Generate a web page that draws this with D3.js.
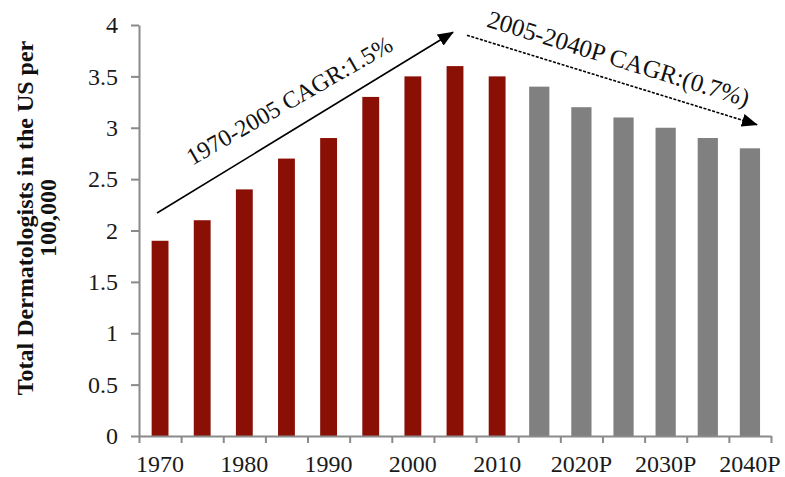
<!DOCTYPE html>
<html>
<head>
<meta charset="utf-8">
<script src="https://cdn.jsdelivr.net/npm/d3@7/dist/d3.min.js"></script>
<style>
  html, body { margin: 0; padding: 0; background: #fff; }
  svg { display: block; }
  text { font-family: "Liberation Serif", "Times New Roman", serif; }
</style>
</head>
<body>
<svg id="chart" width="785" height="477"></svg>
<script>
// Dermatologists per 100,000 US population, actual and projected (P)
const years = ["1970","1975","1980","1985","1990","1995","2000","2005","2010",
               "2015","2020","2025","2030","2035","2040"];
const values = [1.9, 2.1, 2.4, 2.7, 2.9, 3.3, 3.5, 3.6, 3.5,
                3.4, 3.2, 3.1, 3.0, 2.9, 2.8];
const firstProjectedYear = "2015";
const labelledYears = ["1970","1980","1990","2000","2010","2020","2030","2040"];
const yearLabels = ["1970","1980","1990","2000","2010","2020P","2030P","2040P"];
const yTicks = [0, 0.5, 1, 1.5, 2, 2.5, 3, 3.5, 4];
const yTitle = ["Total Dermatologists in the US per", "100,000"];

// Trend annotations, anchored in data space
const trendLabels = ["1970-2005 CAGR:1.5%", "2005-2040P CAGR:(0.7%)"];
const trendFrom = [{year: "1970", value: 2.17}, {year: "2005", value: 3.9}];
const trendTo   = [{year: "2005", value: 3.93}, {year: "2040", value: 3.03}];

const colors = { actual: "#8a1006", projected: "#808080", axis: "#8a8a8a", text: "#1a1a1a" };

const svg = d3.select("#chart");
const plotLeft = 139, plotRight = 771, plotTop = 25, plotBottom = 436;

const x = d3.scaleBand().domain(years).range([plotLeft, plotRight]).padding(0);
const xEdges = d3.scaleLinear().domain([0, years.length]).range([plotLeft, plotRight]);
const y = d3.scaleLinear().domain([0, 4]).range([plotBottom, plotTop]);

const isProjected = d => d >= firstProjectedYear;
const barWidth = d => x.bandwidth() * (isProjected(d) ? 0.48 : 0.40);

// Bars
svg.append("g").selectAll("rect")
  .data(years)
  .join("rect")
  .attr("x", (d) => x(d) + (x.bandwidth() - barWidth(d)) / 2)
  .attr("width", d => barWidth(d))
  .attr("y", (d, i) => y(values[i]))
  .attr("height", (d, i) => y(0) - y(values[i]))
  .attr("fill", d => isProjected(d) ? colors.projected : colors.actual);

// Y axis
const yAxis = svg.append("g")
  .attr("transform", `translate(${plotLeft},0)`)
  .call(d3.axisLeft(y).tickValues(yTicks).tickFormat(d3.format("")).tickSize(8).tickPadding(13).tickSizeOuter(0));

// X axis: tick marks at band edges
const xTicksAxis = svg.append("g")
  .attr("transform", `translate(0,${plotBottom})`)
  .call(d3.axisBottom(xEdges).tickValues(d3.range(years.length + 1)).tickFormat("").tickSize(7).tickSizeOuter(0));

// X axis: year labels under every other band
const xLabelAxis = svg.append("g")
  .attr("transform", `translate(0,${plotBottom})`)
  .call(d3.axisBottom(x).tickValues(labelledYears)
    .tickFormat(d => yearLabels[labelledYears.indexOf(d)]).tickSize(0).tickPadding(19));
xLabelAxis.select(".domain").remove();

[yAxis, xTicksAxis].forEach(g => {
  g.select(".domain").attr("stroke", colors.axis).attr("stroke-width", 2);
  g.selectAll(".tick line").attr("stroke", colors.axis).attr("stroke-width", 2);
});
[yAxis, xLabelAxis].forEach(g => {
  g.selectAll(".tick text")
    .attr("font-family", "Liberation Serif, Times New Roman, serif")
    .attr("font-size", 24)
    .attr("fill", colors.text);
});

// Y axis title
const yTitleText = svg.append("text")
  .attr("transform", "translate(33,218) rotate(-90)")
  .attr("text-anchor", "middle")
  .attr("font-size", 24)
  .attr("font-weight", "bold")
  .attr("fill", "#111");
yTitleText.append("tspan").attr("x", 0).attr("y", 0).text(yTitle[0]);
yTitleText.append("tspan").attr("x", 0).attr("y", 23).text(yTitle[1]);

// Arrowhead
svg.append("defs").append("marker")
  .attr("id", "head")
  .attr("viewBox", "0 0 16 13")
  .attr("refX", 15).attr("refY", 6.5)
  .attr("markerUnits", "userSpaceOnUse")
  .attr("markerWidth", 16).attr("markerHeight", 13)
  .attr("orient", "auto")
  .append("path")
  .attr("d", "M0,0 L16,6.5 L0,13 Z")
  .attr("fill", "#000");

const nudgeFrom = [-3, 12];
const nudgeTo = [-2, 7];
const labelSizes = [24, 25];
const cx = yr => x(yr) + x.bandwidth() / 2;

trendLabels.forEach((label, i) => {
  const x1 = cx(trendFrom[i].year) + nudgeFrom[i], y1 = y(trendFrom[i].value);
  const x2 = cx(trendTo[i].year) + nudgeTo[i], y2 = y(trendTo[i].value);
  svg.append("line")
    .attr("x1", x1).attr("y1", y1).attr("x2", x2).attr("y2", y2)
    .attr("stroke", "#000").attr("stroke-width", 1.6)
    .attr("stroke-dasharray", i === 1 ? "3,1.5" : null)
    .attr("marker-end", "url(#head)");

  const angle = Math.atan2(y2 - y1, x2 - x1) * 180 / Math.PI;
  const textAngle = i === 0 ? angle + 1.5 : angle;
  const mx = (x1 + x2) / 2, my = (y1 + y2) / 2;
  // shift label along the arrow and lift it above the line
  const along = i === 0 ? -2 : 0, lift = i === 0 ? 19 : 14;
  const rad = angle * Math.PI / 180;
  const tx = mx + along * Math.cos(rad) + lift * Math.sin(rad);
  const ty = my + along * Math.sin(rad) - lift * Math.cos(rad);
  svg.append("text")
    .attr("transform", `translate(${tx},${ty}) rotate(${textAngle})`)
    .attr("text-anchor", "middle")
    .attr("font-size", labelSizes[i])
    .attr("fill", "#111")
    .text(label);
});
</script>
</body>
</html>
